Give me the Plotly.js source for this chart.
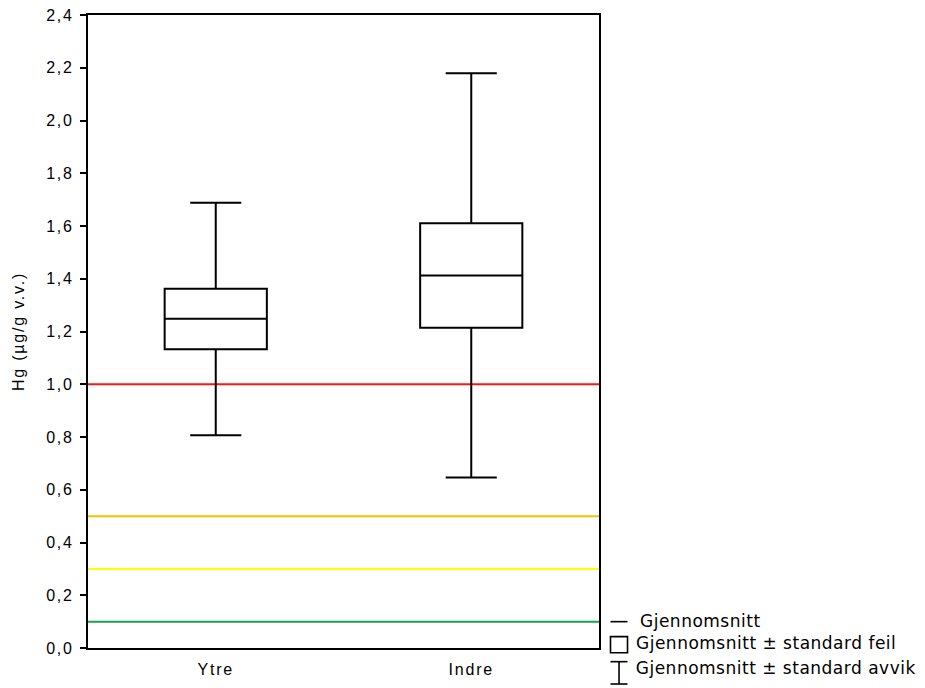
<!DOCTYPE html>
<html>
<head>
<meta charset="utf-8">
<script src="https://cdn.plot.ly/plotly-3.0.1.min.js"></script>
<style>
body{margin:0;background:#fff}
#chart{width:925px;height:688px}
#chart .xtick text, #chart .ytick text { letter-spacing: 1.8px; }
#chart .ytitle { letter-spacing: 1.8px; }
#chart .annotation-text { letter-spacing: 0.5px; }
</style>
</head>
<body>
<div id="chart"></div>
<script>
// Data
const categories = ["Ytre", "Indre"];
const means = [1.248, 1.412];
const seLow = [1.133, 1.214];   // mean - standard error
const seHigh = [1.362, 1.610];  // mean + standard error
const sdLow = [0.807, 0.646];   // mean - standard deviation
const sdHigh = [1.688, 2.179];  // mean + standard deviation
const limitValues = [1.0, 0.5, 0.3, 0.1];
const limitColors = ["#ff1414", "#ffbf00", "#ffff00", "#17a34a"];
const yTicks = [0, 0.2, 0.4, 0.6, 0.8, 1.0, 1.2, 1.4, 1.6, 1.8, 2.0, 2.2, 2.4];
const legendLabels = ["Gjennomsnitt", "Gjennomsnitt \u00b1 standard feil", "Gjennomsnitt \u00b1 standard avvik"];

const trace = {
  type: "box",
  x: categories,
  q1: seLow,
  median: means,
  q3: seHigh,
  lowerfence: sdLow,
  upperfence: sdHigh,
  width: 0.4,
  whiskerwidth: 0.5,
  fillcolor: "rgba(0,0,0,0)",
  line: {color: "#000", width: 2},
  boxpoints: false,
  hoverinfo: "skip",
  showlegend: false
};

const shapes = limitValues.map((v, i) => ({
  type: "line", xref: "paper", yref: "y", x0: 0, x1: 1, y0: v, y1: v,
  line: {color: limitColors[i], width: 2}, layer: "below"
}));

// custom legend symbols (paper coords right of plot)
const sx0 = 1.0225, sx1 = 1.0558, sxm = 1.0392;
const sym = {color: "#000", width: 1.6};
shapes.push({type: "line", xref: "paper", yref: "paper", x0: sx0, x1: sx1, y0: 0.0416, y1: 0.0416, line: sym});
shapes.push({type: "rect", xref: "paper", yref: "paper", x0: sx0, x1: sx1, y0: 0.0179, y1: -0.0074, line: sym});
shapes.push({type: "line", xref: "paper", yref: "paper", x0: sx0, x1: sx1, y0: -0.0216, y1: -0.0216, line: sym});
shapes.push({type: "line", xref: "paper", yref: "paper", x0: sx0, x1: sx1, y0: -0.0569, y1: -0.0569, line: sym});
shapes.push({type: "line", xref: "paper", yref: "paper", x0: sxm, x1: sxm, y0: -0.0216, y1: -0.0569, line: sym});

const legendY = [0.0425, 0.0075, -0.0315];
const annotations = legendLabels.map((t, i) => ({
  xref: "paper", yref: "paper", x: 1.082, y: legendY[i], xanchor: "left", yanchor: "middle",
  text: t, showarrow: false, font: {family: "DejaVu Sans", size: 17, color: "#000"}
}));

const layout = {
  width: 925, height: 688,
  margin: {l: 88, r: 326, t: 15, b: 40},
  paper_bgcolor: "#fff", plot_bgcolor: "#fff",
  separators: ", ",
  font: {family: "Liberation Sans, Arial, sans-serif", size: 16, color: "#000"},
  xaxis: {
    type: "category", range: [-0.5, 1.5], showgrid: false, zeroline: false,
    showline: true, linecolor: "#000", linewidth: 2, mirror: true,
    ticks: "", tickfont: {size: 16}, ticklabelstandoff: 6
  },
  yaxis: {
    range: [0, 2.4], tickvals: yTicks, tickformat: ".1f", showgrid: false, zeroline: false,
    showline: true, linecolor: "#000", linewidth: 2, mirror: true,
    ticks: "outside", ticklen: 6, tickwidth: 2, tickcolor: "#000", tickfont: {size: 16},
    ticklabelstandoff: 3,
    title: {text: "Hg (\u00b5g/g v.v.)", font: {size: 16}, standoff: 23}
  },
  shapes: shapes,
  annotations: annotations,
  showlegend: false
};

Plotly.newPlot("chart", [trace], layout, {staticPlot: true});
</script>
</body>
</html>
